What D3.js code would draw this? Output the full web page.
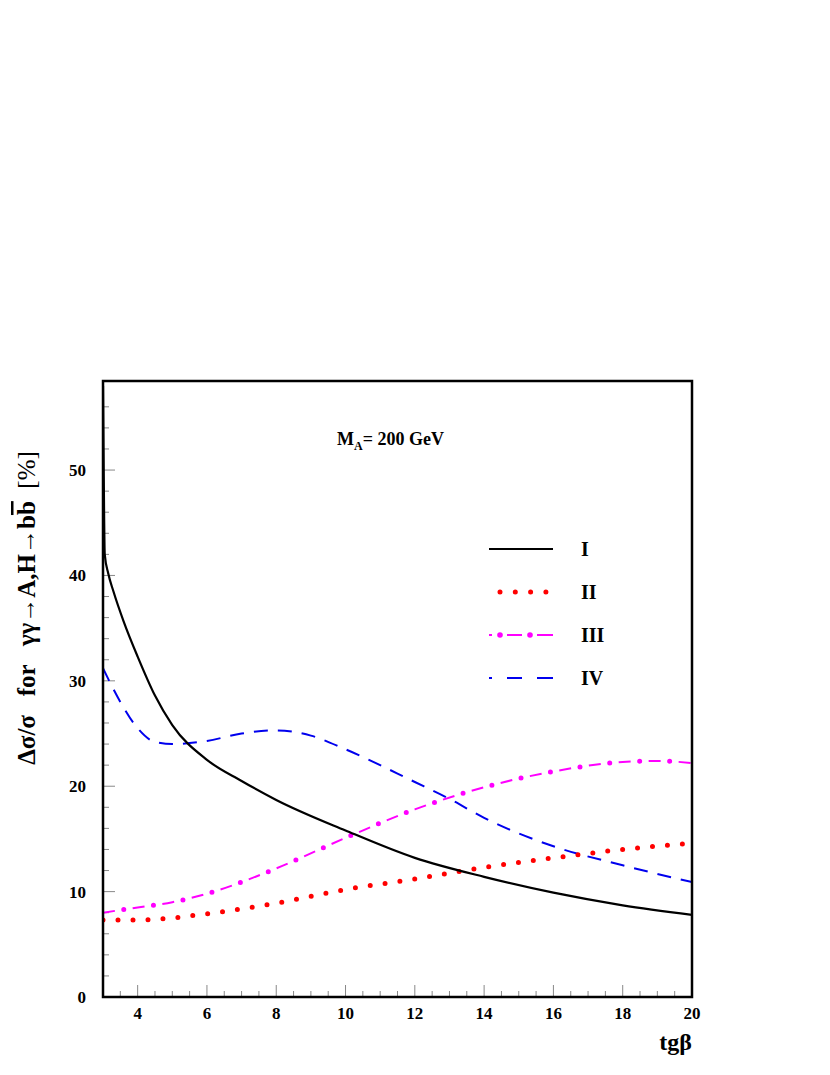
<!DOCTYPE html><html><head><meta charset="utf-8">
<script src="https://cdn.jsdelivr.net/npm/d3@7"></script>
<style>body{margin:0;background:#fff}text{font-family:"Liberation Serif",serif;font-weight:bold;white-space:pre}</style></head><body>
<svg id="c" width="830" height="1075"></svg>
<script>
const xI=[3,3.02,3.05,3.15,3.3,3.6,4,4.5,5,6,7,8,10,12,14,16,18,20];
const yI=[58,50,42,40.2,38.5,35.6,32.3,28.6,25.8,22.5,20.5,18.7,15.8,13.2,11.4,9.9,8.7,7.8];
const xII=[3,4,5,6,8,10,12,14,16,18,20];
const yII=[7.3,7.3,7.5,7.9,8.9,10.2,11.2,12.3,13.2,14.0,14.6];
const xIII=[3,4,5,6,8,10,12,14,16,18,19,20];
const yIII=[8.0,8.5,9.0,9.8,12.2,15.1,17.8,19.9,21.4,22.3,22.4,22.2];
const xIV=[3,3.5,4,4.5,5,6,7,8,9,10,12,13,14,16,18,20];
const yIV=[31.2,28,25.5,24.2,24,24.3,25,25.3,24.8,23.5,20.4,18.8,17,14.3,12.5,10.9];
const xTicks=[4,6,8,10,12,14,16,18,20];
const yTicks=[0,10,20,30,40,50];
const labels=["I","II","III","IV"];

const svg=d3.select("#c");
const L=103,R=692,T=381,B=997;
const x=d3.scaleLinear().domain([3,20]).range([L,R]);
const y=d3.scaleLinear().domain([0,58.45]).range([B,T]);
const g=svg.append("g");
const yMinor=d3.range(0,58,2), xMinor=d3.range(3,20.01,0.5);
yMinor.forEach(v=>{const maj=v%10===0;g.append("line").attr("x1",L).attr("x2",L+(maj?12:6)).attr("y1",y(v)).attr("y2",y(v)).attr("stroke","#888").attr("stroke-width",1);});
xMinor.forEach(v=>{const maj=v%2===0;g.append("line").attr("x1",x(v)).attr("x2",x(v)).attr("y1",B).attr("y2",B-(maj?12:6)).attr("stroke","#888").attr("stroke-width",1);});
yTicks.forEach(v=>g.append("text").attr("x",86).attr("y",y(v)+6).attr("text-anchor","end").attr("font-size",17).text(v));
xTicks.forEach(v=>g.append("text").attr("x",x(v)).attr("y",B+22).attr("text-anchor","middle").attr("font-size",17).text(v));
const line=d3.line().curve(d3.curveMonotoneX);
const pts=(xs,ys)=>xs.map((v,i)=>[x(v),y(ys[i])]);
svg.append("clipPath").attr("id","cl").append("rect").attr("x",L).attr("y",T).attr("width",R-L).attr("height",B-T);
const pg=svg.append("g").attr("clip-path","url(#cl)");
pg.append("path").attr("d",line(pts(xIV,yIV))).attr("fill","none").attr("stroke","#0000ee").attr("stroke-width",2).attr("stroke-dasharray","14,10");
pg.append("path").attr("d",line(pts(xIII,yIII))).attr("fill","none").attr("stroke","#ff00ff").attr("stroke-width",2).attr("stroke-dasharray","12,18");
pg.append("path").attr("d",line(pts(xIII,yIII))).attr("fill","none").attr("stroke","#ff00ff").attr("stroke-width",5).attr("stroke-linecap","round").attr("stroke-dasharray","0,30").attr("stroke-dashoffset",9);
pg.append("path").attr("d",line(pts(xII,yII))).attr("fill","none").attr("stroke","#ff0000").attr("stroke-width",5).attr("stroke-linecap","round").attr("stroke-dasharray","0,15");
pg.append("path").attr("d",line(pts(xI,yI))).attr("fill","none").attr("stroke","#000").attr("stroke-width",2.2);
svg.append("rect").attr("x",L).attr("y",T).attr("width",R-L).attr("height",B-T).attr("fill","none").attr("stroke","#000").attr("stroke-width",2.5);
const ly=[549,592,635,678];
const lg=svg.append("g");
lg.append("line").attr("x1",489).attr("x2",553).attr("y1",ly[0]).attr("y2",ly[0]).attr("stroke","#000").attr("stroke-width",2.2);
lg.append("line").attr("x1",500).attr("x2",553).attr("y1",ly[1]).attr("y2",ly[1]).attr("stroke","#ff0000").attr("stroke-width",5).attr("stroke-linecap","round").attr("stroke-dasharray","0,15.3");
lg.append("path").attr("d",`M489,${ly[2]}H492M507,${ly[2]}H522M537,${ly[2]}H553`).attr("stroke","#ff00ff").attr("stroke-width",2);
[500,530].forEach(cx=>lg.append("circle").attr("cx",cx).attr("cy",ly[2]).attr("r",2.8).attr("fill","#ff00ff"));
lg.append("path").attr("d",`M489,${ly[3]}H492M507,${ly[3]}H522M537,${ly[3]}H553`).attr("stroke","#0000ee").attr("stroke-width",2.2);
labels.forEach((t,i)=>lg.append("text").attr("x",581).attr("y",ly[i]+7).attr("font-size",20).text(t));
const tt=svg.append("text").attr("x",337).attr("y",445).attr("font-size",18);
tt.append("tspan").text("M");tt.append("tspan").attr("font-size",12).attr("dy",5).text("A");tt.append("tspan").attr("dy",-5).text("= 200 GeV");
svg.append("text").attr("x",692).attr("y",1050).attr("text-anchor","end").attr("font-size",24).text("tgβ");
const yl=svg.append("text").attr("transform","translate(35,608) rotate(-90)").attr("text-anchor","middle").attr("font-size",25);
yl.append("tspan").text("Δσ/σ   for   γγ→A,H→b");
yl.append("tspan").attr("text-decoration","overline").text("b");
yl.append("tspan").attr("font-weight","normal").text("  [%]");
</script></body></html>
